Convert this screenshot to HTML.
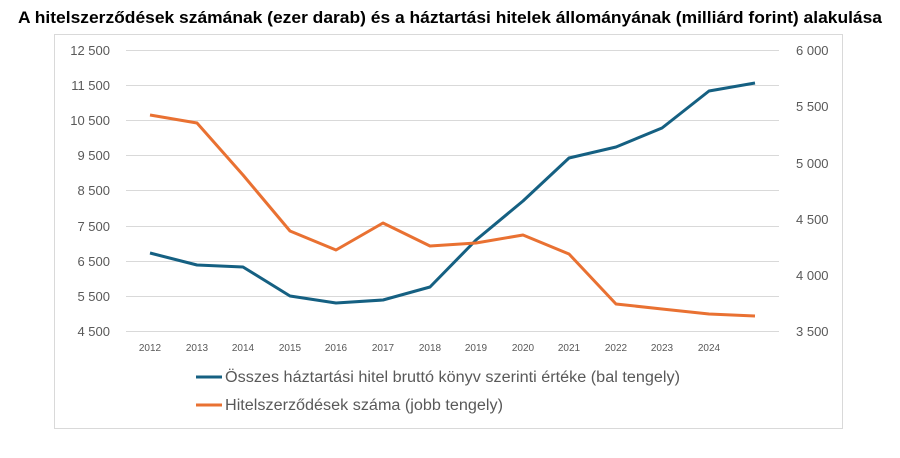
<!DOCTYPE html>
<html><head><meta charset="utf-8"><style>
body{margin:0;background:#fff;width:900px;height:453px;overflow:hidden;font-family:"Liberation Sans",sans-serif}
</style></head><body>
<svg width="900" height="453" xmlns="http://www.w3.org/2000/svg" font-family="Liberation Sans, sans-serif">
<text x="18" y="23" font-size="16.5" font-weight="bold" fill="#000" textLength="864" lengthAdjust="spacingAndGlyphs">A hitelszerződések számának (ezer darab) és a háztartási hitelek állományának (milliárd forint) alakulása</text>
<rect x="54.5" y="34.5" width="788" height="394" fill="none" stroke="#d9d9d9"/>
<g stroke="#d9d9d9" stroke-width="1">
<line x1="126" x2="779" y1="50.5" y2="50.5"/><line x1="126" x2="779" y1="85.5" y2="85.5"/>
<line x1="126" x2="779" y1="120.5" y2="120.5"/><line x1="126" x2="779" y1="155.5" y2="155.5"/>
<line x1="126" x2="779" y1="190.5" y2="190.5"/><line x1="126" x2="779" y1="226.5" y2="226.5"/>
<line x1="126" x2="779" y1="261.5" y2="261.5"/><line x1="126" x2="779" y1="296.5" y2="296.5"/>
<line x1="126" x2="779" y1="331.5" y2="331.5"/>
</g>
<g font-size="13" fill="#595959" text-anchor="end">
<text x="110" y="55">12 500</text><text x="110" y="90">11 500</text><text x="110" y="125">10 500</text>
<text x="110" y="160">9 500</text><text x="110" y="195">8 500</text><text x="110" y="231">7 500</text>
<text x="110" y="266">6 500</text><text x="110" y="301">5 500</text><text x="110" y="336">4 500</text>
</g>
<g font-size="13" fill="#595959" text-anchor="start">
<text x="796" y="55">6 000</text><text x="796" y="111">5 500</text><text x="796" y="168">5 000</text>
<text x="796" y="224">4 500</text><text x="796" y="280">4 000</text><text x="796" y="336">3 500</text>
</g>
<g font-size="10" fill="#595959" text-anchor="middle">
<text x="150" y="351">2012</text><text x="197" y="351">2013</text><text x="243" y="351">2014</text>
<text x="290" y="351">2015</text><text x="336" y="351">2016</text><text x="383" y="351">2017</text>
<text x="430" y="351">2018</text><text x="476" y="351">2019</text><text x="523" y="351">2020</text>
<text x="569" y="351">2021</text><text x="616" y="351">2022</text><text x="662" y="351">2023</text>
<text x="709" y="351">2024</text>
</g>
<polyline fill="none" stroke="#156082" stroke-width="3" stroke-linejoin="round" points="150,253 197,265 243,267 290,296 336,303 383,300 430,287 476,240 523,201 569,158 616,147 662,128 709,91 755,83"/>
<polyline fill="none" stroke="#e97132" stroke-width="3" stroke-linejoin="round" points="150,115 197,123 243,175 290,231 336,250 383,223 430,246 476,243 523,235 569,254 616,304 662,309 709,314 755,316"/>
<line x1="196" x2="222" y1="377" y2="377" stroke="#156082" stroke-width="3"/>
<text x="225" y="382" font-size="15.5" fill="#595959" textLength="455" lengthAdjust="spacingAndGlyphs">Összes háztartási hitel bruttó könyv szerinti értéke (bal tengely)</text>
<line x1="196" x2="222" y1="405" y2="405" stroke="#e97132" stroke-width="3"/>
<text x="225" y="410" font-size="15.5" fill="#595959" textLength="278" lengthAdjust="spacingAndGlyphs">Hitelszerződések száma (jobb tengely)</text>
</svg>
</body></html>
